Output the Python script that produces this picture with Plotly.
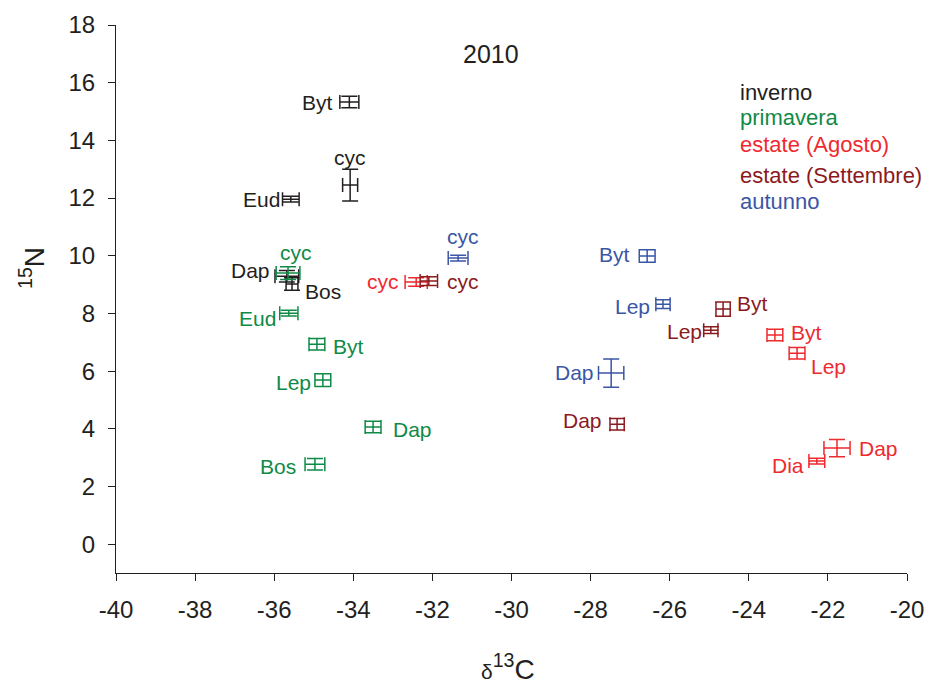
import plotly.graph_objects as go

# ---------------- data ----------------
seasons = ["inverno", "primavera", "estate (Agosto)", "estate (Settembre)", "autunno"]
season_colors = ["#231f20", "#0f8a46", "#ee2a2f", "#8b1a1e", "#3a56a5"]

inv_taxa = ["Byt", "cyc", "Eud", "Dap", "Bos"]
inv_c13 = [-34.10, -34.08, -35.58, -35.68, -35.55]
inv_n15 = [15.33, 12.45, 11.96, 9.29, 9.02]
inv_c13_err = [0.24, 0.19, 0.21, 0.30, 0.15]
inv_n15_err = [0.20, 0.55, 0.10, 0.20, 0.22]

pri_taxa = ["cyc", "Eud", "Byt", "Lep", "Dap", "Bos"]
pri_c13 = [-35.65, -35.63, -34.92, -34.77, -33.50, -34.97]
pri_n15 = [9.40, 8.01, 6.93, 5.69, 4.06, 2.77]
pri_c13_err = [0.30, 0.23, 0.20, 0.20, 0.20, 0.25]
pri_n15_err = [0.22, 0.10, 0.20, 0.22, 0.20, 0.20]

ago_taxa = ["cyc", "Byt", "Lep", "Dap", "Dia"]
ago_c13 = [-32.41, -23.34, -22.78, -21.77, -22.28]
ago_n15 = [9.09, 7.25, 6.62, 3.33, 2.88]
ago_c13_err = [0.28, 0.20, 0.20, 0.33, 0.20]
ago_n15_err = [0.15, 0.20, 0.20, 0.30, 0.10]

set_taxa = ["cyc", "Byt", "Lep", "Dap"]
set_c13 = [-32.09, -24.65, -24.96, -27.33]
set_n15 = [9.12, 8.15, 7.42, 4.16]
set_c13_err = [0.22, 0.18, 0.18, 0.18]
set_n15_err = [0.15, 0.25, 0.12, 0.20]

aut_taxa = ["cyc", "Byt", "Lep", "Dap"]
aut_c13 = [-31.35, -26.57, -26.17, -27.48]
aut_n15 = [9.92, 9.99, 8.32, 5.93]
aut_c13_err = [0.25, 0.20, 0.18, 0.32]
aut_n15_err = [0.10, 0.22, 0.15, 0.49]

x_ticks = [-40, -38, -36, -34, -32, -30, -28, -26, -24, -22, -20]
y_ticks = [0, 2, 4, 6, 8, 10, 12, 14, 16, 18]

# label placement (anchor, x shift px, y shift px) -- styling only
inv_lab = [("right", -14, 0), ("center", 0, 28), ("right", -9, 0), ("right", -15, 6), ("left", 11, -7)]
pri_lab = [("center", 8, 21), ("right", -11, -5), ("left", 14, -2), ("right", -10, -2), ("left", 18, -2), ("right", -17, -2)]
ago_lab = [("right", -15, 0), ("left", 14, 3), ("left", 12, -13), ("left", 20, 0), ("right", -11, -4)]
set_lab = [("left", 16, 0), ("left", 12, 6), ("right", -7, -1), ("right", -13, 4)]
aut_lab = [("center", 5, 22), ("right", -15, 2), ("right", -11, -2), ("right", -15, 1)]

groups = [
    (inv_taxa, inv_c13, inv_n15, inv_c13_err, inv_n15_err, inv_lab),
    (pri_taxa, pri_c13, pri_n15, pri_c13_err, pri_n15_err, pri_lab),
    (ago_taxa, ago_c13, ago_n15, ago_c13_err, ago_n15_err, ago_lab),
    (set_taxa, set_c13, set_n15, set_c13_err, set_n15_err, set_lab),
    (aut_taxa, aut_c13, aut_n15, aut_c13_err, aut_n15_err, aut_lab),
]

FONT = "Liberation Sans, Arial, sans-serif"
ML, MR, MT, MB = 116, 21, 25, 114
W, H = 928, 687
PW, PH = W - ML - MR, H - MT - MB

fig = go.Figure()
annotations = []

for (taxa, xs, ys, xe, ye, labs), name, col in zip(groups, seasons, season_colors):
    fig.add_trace(go.Scatter(
        x=xs, y=ys, mode="markers", name=name,
        marker=dict(size=1, color=col),
        error_x=dict(type="data", array=xe, visible=True, color=col, thickness=1.5, width=7),
        error_y=dict(type="data", array=ye, visible=True, color=col, thickness=1.5, width=8),
        showlegend=False, hoverinfo="skip",
    ))
    for t, x, y, (anc, dx, dy) in zip(taxa, xs, ys, labs):
        annotations.append(dict(
            x=x, y=y, xref="x", yref="y", text=t, showarrow=False,
            xanchor=anc, yanchor="middle", xshift=dx, yshift=dy,
            font=dict(family=FONT, size=21, color=col),
        ))


def px_x(p):
    return (p - ML) / PW


def px_y(p):
    return (H - MB - p) / PH


# season legend as text
legend_py = [93, 117, 145, 175, 201]
for name, col, ly in zip(seasons, season_colors, legend_py):
    annotations.append(dict(
        x=px_x(738), y=px_y(ly), xref="paper", yref="paper", text=name, showarrow=False,
        xanchor="left", yanchor="middle",
        font=dict(family=FONT, size=22, color=col),
    ))

annotations.append(dict(
    x=px_x(491), y=px_y(54), xref="paper", yref="paper",
    text="2010", showarrow=False, xanchor="center", yanchor="middle",
    font=dict(family=FONT, size=25, color="#231f20"),
))
annotations.append(dict(
    x=px_x(508), y=px_y(667), xref="paper", yref="paper",
    text="<span style='font-size:21px'>δ</span><sup>13</sup>C", showarrow=False,
    xanchor="center", yanchor="middle",
    font=dict(family=FONT, size=28, color="#231f20"),
))
annotations.append(dict(
    x=px_x(32), y=px_y(268), xref="paper", yref="paper",
    text="<sup>15</sup>N", showarrow=False, textangle=-90,
    xanchor="center", yanchor="middle",
    font=dict(family=FONT, size=28, color="#231f20"),
))

fig.update_layout(
    width=W, height=H,
    margin=dict(l=ML, r=MR, t=MT, b=MB, autoexpand=False),
    paper_bgcolor="white", plot_bgcolor="white",
    font=dict(family=FONT, size=24, color="#231f20"),
    showlegend=False,
    annotations=annotations,
)

fig.update_xaxes(
    range=[-40, -20], tickvals=x_ticks, ticktext=[str(v) for v in x_ticks],
    showline=True, linecolor="#231f20", linewidth=1.2,
    ticks="outside", ticklen=7, tickcolor="#231f20", tickwidth=1.2,
    showgrid=False, zeroline=False, ticklabelstandoff=8,
    automargin=False, ticklabeloverflow="allow",
    tickfont=dict(family=FONT, size=24, color="#231f20"),
)
fig.update_yaxes(
    range=[-1, 18], tickvals=y_ticks, ticktext=[str(v) for v in y_ticks],
    showline=True, linecolor="#231f20", linewidth=1.2,
    ticks="outside", ticklen=7, tickcolor="#231f20", tickwidth=1.2,
    showgrid=False, zeroline=False, ticklabelstandoff=8,
    automargin=False, ticklabeloverflow="allow",
    tickfont=dict(family=FONT, size=24, color="#231f20"),
)

fig.write_html("out.html", config={"displayModeBar": False},
               post_script="document.body.style.margin='0px';")
